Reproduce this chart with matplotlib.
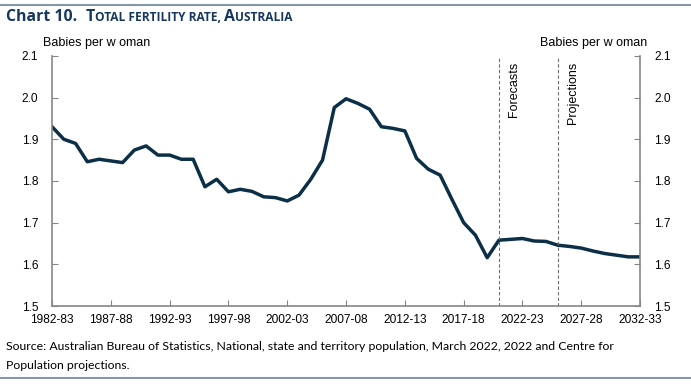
import numpy as np
import matplotlib.pyplot as plt
from matplotlib.lines import Line2D

# financial years 1982-83 .. 2032-33
start_years = np.arange(1982, 2033)
year_labels = ["%d-%02d" % (y, (y + 1) % 100) for y in start_years]

# total fertility rate, babies per woman
tfr = [1.93, 1.90, 1.89, 1.846, 1.852, 1.848, 1.844, 1.874, 1.884, 1.862,
       1.862, 1.852, 1.852, 1.786, 1.804, 1.774, 1.780, 1.775, 1.762, 1.760,
       1.752, 1.766, 1.804, 1.850, 1.976, 1.997, 1.986, 1.972, 1.930, 1.926,
       1.920, 1.854, 1.828, 1.814, 1.756, 1.700, 1.670, 1.616, 1.658, 1.660,
       1.662, 1.656, 1.655, 1.646, 1.643, 1.639, 1.632, 1.626, 1.622, 1.618,
       1.618]

forecast_start = 2020
projection_start = 2025

y_ticks = [1.5, 1.6, 1.7, 1.8, 1.9, 2.0, 2.1]
x_tick_years = np.arange(1982, 2033, 5)

title_col = "#17375e"
axis_col = "#868686"
line_col = "#0c2f48"

plt.rcParams['font.family'] = ['Liberation Sans', 'DejaVu Sans']

fig = plt.figure(figsize=(6.91, 3.85), dpi=100)
ax = fig.add_axes([0.0753, 0.205, 0.851, 0.65])

ax.plot(start_years, tfr, color=line_col, lw=2.5, solid_joinstyle='round')

for yr in (forecast_start, projection_start):
    ax.axvline(yr, color="#6e6e6e", lw=0.8, ls=(0, (3, 2)))
ax.text(forecast_start + 1.3, 2.085, "Forecasts", rotation=90, va='top', ha='center',
        fontsize=9)
ax.text(projection_start + 1.3, 2.085, "Projections", rotation=90, va='top', ha='center',
        fontsize=9)

ax.set_xlim(1982, 2032)
ax.set_ylim(1.5, 2.1)
ax.set_xticks(x_tick_years)
ax.set_xticklabels([year_labels[y - 1982] for y in x_tick_years])
ax.set_yticks(y_ticks)
ax.set_yticklabels(["%.1f" % v for v in y_ticks])
ax.tick_params(axis='both', direction='in', length=4, color=axis_col, labelsize=8.6,
               width=0.8)
ax.tick_params(axis='y', which='both', left=True, right=True, labelleft=True,
               labelright=True, pad=10)
ax.tick_params(axis='x', pad=6)

ax.spines['top'].set_visible(False)
for s in ('left', 'right', 'bottom'):
    ax.spines[s].set_color(axis_col)
    ax.spines[s].set_linewidth(1.2)

fig.text(0.062, 0.872, "Babies per w oman", fontsize=9, ha='left', va='bottom')
fig.text(0.937, 0.872, "Babies per w oman", fontsize=9, ha='right', va='bottom')

# title in small caps style, pieces placed one after another
title_parts = [("Chart 10.  ", 11.4), ("T", 11.4), ("OTAL FERTILITY RATE, ", 8.6),
               ("A", 11.4), ("USTRALIA", 8.6)]
renderer = fig.canvas.get_renderer()
x_px = 0.009 * fig.bbox.width
for txt, size in title_parts:
    t = fig.text(x_px / fig.bbox.width, 0.945, txt, fontsize=size, fontweight='bold',
                 color=title_col, va='baseline', family=['Open Sans', 'DejaVu Sans'])
    x_px += t.get_window_extent(renderer).width

fig.text(0.009, 0.099, "Source: Australian Bureau of Statistics, National, state and territory "
         "population, March 2022, 2022 and Centre for", fontsize=8.85, va='center',
         family=['Lato', 'DejaVu Sans'])
fig.text(0.009, 0.050, "Population projections.", fontsize=8.85, va='center',
         family=['Lato', 'DejaVu Sans'])

# horizontal rules at top and bottom
fig.add_artist(Line2D([0, 1], [0.987, 0.987], color="#8497a8", lw=1.5,
                      transform=fig.transFigure))
fig.add_artist(Line2D([0, 1], [0.018, 0.018], color="#8497a8", lw=1.5,
                      transform=fig.transFigure))

fig.savefig("out.png", dpi=100)
